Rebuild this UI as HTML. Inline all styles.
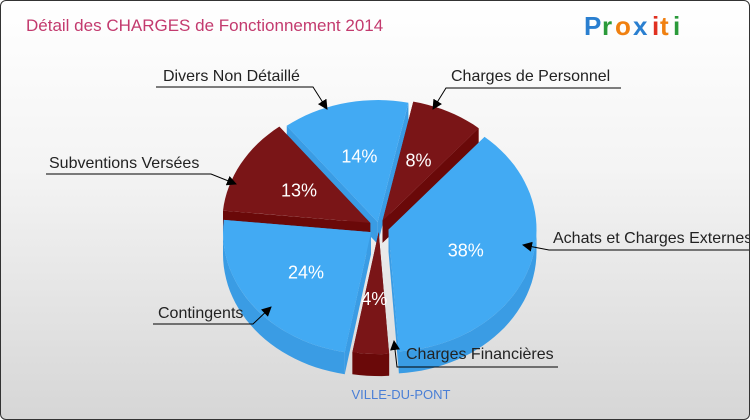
<!DOCTYPE html>
<html><head><meta charset="utf-8"><style>
body{margin:0}
#c{width:748px;height:418px;border:1px solid #333;border-radius:6px;overflow:hidden;position:relative;background:linear-gradient(#ffffff,#f4f4f4 40%,#d6d6d6);font-family:"Liberation Sans",sans-serif}
svg{position:absolute;left:0;top:0}
</style></head><body>
<div id="c">
<svg id="s" width="750" height="420">
<defs><marker id="ar" markerWidth="10" markerHeight="10" refX="9" refY="5" orient="auto"><path d="M0,0 L10,5 L0,10 z" fill="#000"/></marker></defs>
<text x="25" y="30" font-size="17" fill="#c33a6e">Détail des CHARGES de Fonctionnement 2014</text>
<g font-size="26" font-weight="bold" font-family="'Liberation Sans',sans-serif">
<text x="583" y="34" fill="#2a7fd0">P</text><text x="601" y="34" fill="#2a9a3a">r</text><text x="614" y="34" fill="#f08010">o</text><text x="632" y="34" fill="#2a7fd0">x</text><text x="651" y="34" fill="#e03020">i</text><text x="659" y="34" fill="#f08010">t</text><text x="672" y="34" fill="#2a9a3a">i</text></g>
<g id="pie"></g>
<g id="lbl" font-size="16" fill="#222"></g>
<text x="400" y="398" font-size="13" fill="#4a7fd6" text-anchor="middle">VILLE-DU-PONT</text>
</svg></div>
<script>
const categories=["Charges de Personnel","Achats et Charges Externes","Charges Financières","Contingents","Subventions Versées","Divers Non Détaillé"];
const values=[8,38,4,24,13,14];
const pctLabels=["8%","38%","4%","24%","13%","14%"];
const colorIdx=[1,0,1,0,1,0];
const tops=["#42aaf3","#7a1517"],sides=["#3a9ce4","#6a0909"];
const cx=378,cy=226,rx=148,ry=122,depth=22,start=-78,explode=[8,10,6,10,10,6];
const ns="http://www.w3.org/2000/svg";
const pie=document.getElementById('pie'),lbl=document.getElementById('lbl');
function mk(t,a,p){const e=document.createElementNS(ns,t);for(const k in a)e.setAttribute(k,a[k]);(p||pie).appendChild(e);return e;}
const tot=values.reduce((a,b)=>a+b,0);
let acc=start;const sl=[];
values.forEach((v,i)=>{const a0=acc,a1=acc+v/tot*360;acc=a1;sl.push({i,a0,a1,m:(a0+a1)/2});});
const R=d=>d*Math.PI/180;
function pt(s,a,dy){const m=R(s.m),e=explode[s.i];return [cx+e*Math.cos(m)+rx*Math.cos(R(a)),cy+e*Math.sin(m)*0.85+ry*Math.sin(R(a))+dy];}
function ctr(s,dy){const m=R(s.m),e=explode[s.i];return [cx+e*Math.cos(m),cy+e*Math.sin(m)*0.85+dy];}
function arc(s,a0,a1,dy){let d="";const n=Math.max(2,Math.ceil(Math.abs(a1-a0)/3));for(let k=0;k<=n;k++){const p=pt(s,a0+(a1-a0)*k/n,dy);d+=(k?"L":"M")+p[0].toFixed(1)+","+p[1].toFixed(1);}return d;}
const order=sl.slice().sort((a,b)=>Math.sin(R(a.m))-Math.sin(R(b.m)));
order.forEach(s=>{
 const ci=colorIdx[s.i],g=mk('g',{});
 
 
 const c0=ctr(s,0),c1=ctr(s,depth);
 [s.a0,s.a1].forEach(a=>{const p=pt(s,a,0),q=pt(s,a,depth);mk('path',{d:`M${c0}L${p}L${q}L${c1}Z`,fill:sides[ci]},g);});
 const lo=Math.max(s.a0,0),hi=Math.min(s.a1,180);
 const lo2=Math.max(s.a0,360),hi2=Math.min(s.a1,540);
 [[lo,hi],[lo2,hi2]].forEach(([l,h])=>{if(h>l){const up=arc(s,l,h,0),dn=arc(s,h,l,depth).replace('M','L');mk('path',{d:up+dn+'Z',fill:sides[ci]},g);}});
 mk('path',{d:`M${c0}`+arc(s,s.a0,s.a1,0).replace('M','L')+'Z',fill:tops[ci]},g);
 const lp=ctr(s,0),m=R(s.m);const t=mk('text',{x:lp[0]+rx*0.55*Math.cos(m),y:lp[1]+ry*0.55*Math.sin(m)+6,'font-size':18,fill:'#fff','text-anchor':'middle'},g);t.textContent=pctLabels[s.i];
});
const L=[
 ["Divers Non Détaillé",162,80,"M155,86 L312,86 L326,108"],
 ["Charges de Personnel",450,80,"M620,87 L445,87 L432,108"],
 ["Subventions Versées",48,167,"M45,173 L210,173 L235,183"],
 ["Achats et Charges Externes",552,242,"M752,249 L548,249 L522,244"],
 ["Contingents",157,317,"M152,323 L252,323 L270,306"],
 ["Charges Financières",405,358,"M557,366 L396,366 L393,340"]];
L.forEach(l=>{const t=mk('text',{x:l[1],y:l[2]},lbl);t.textContent=l[0];


const p=mk('path',{d:l[3],stroke:'#000',fill:'none','stroke-width':1,'marker-end':'url(#ar)'},lbl);

});
</script>
</body></html>
